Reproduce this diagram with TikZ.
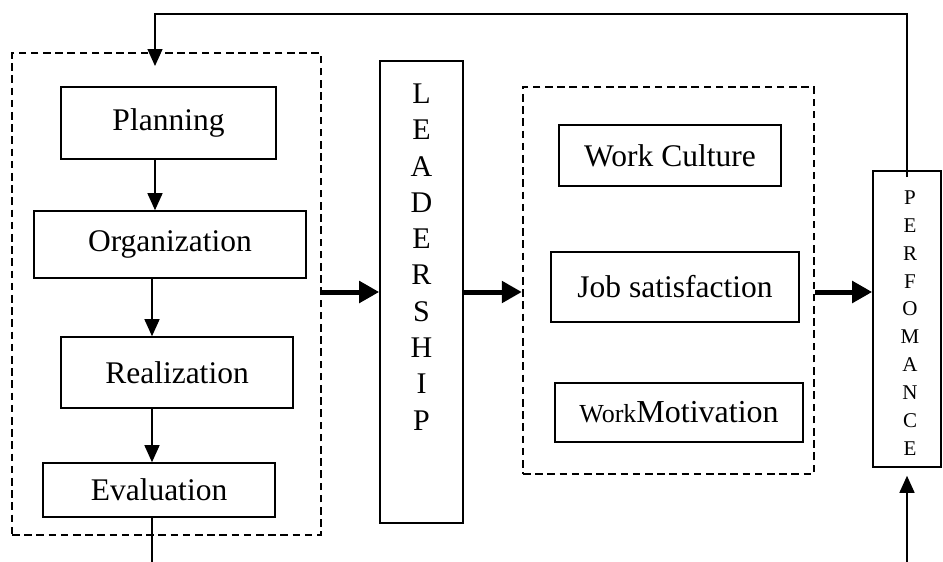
\documentclass[tikz,border=0pt]{standalone}
\usepackage{fontspec}
\setmainfont{Liberation Serif}
\usetikzlibrary{arrows.meta}

\tikzset{
    stage/.style={draw, line width=0.8pt, inner sep=0pt, font=\fontsize{15.75}{19}\selectfont},
    group/.style={draw, line width=1.15pt, dash pattern=on 3.8pt off 2.3pt, inner sep=0pt},
    flow/.style={-{Triangle[length=8.5pt,width=7.5pt]}, line width=0.75pt},
    push/.style={-{Triangle[length=10pt,width=10.5pt]}, line width=2.5pt},
}

\begin{document}
\begin{tikzpicture}[x=0.5pt, y=-0.5pt]
    \useasboundingbox (0,0) rectangle (943,562);
    \node[group, minimum width=154.5pt, minimum height=241pt] (mgmt) at (166.5,294) {};
    \node[group, minimum width=145.5pt, minimum height=193.5pt] (factors) at (668.5,280.5) {};

    \node[stage, minimum width=107.5pt, minimum height=36pt] (plan) at (168.5,123) {Planning};
    \node[stage, minimum width=136pt, minimum height=33.5pt] (org) at (170,244.5) {Organization};
    \node[stage, minimum width=116pt, minimum height=35.5pt] (real) at (177,372.5) {Realization};
    \node[stage, minimum width=116pt, minimum height=27pt] (eval) at (159,490) {Evaluation};

    \node[stage, minimum width=41.5pt, minimum height=231pt] (lead) at (421.5,292) {};
    \node[align=center, inner sep=0pt, font=\fontsize{15}{18.15}\selectfont] (leadtext) at (421.5,257)
        {L\\E\\A\\D\\E\\R\\S\\H\\I\\P};

    \node[stage, minimum width=111pt, minimum height=30.5pt] (culture) at (670,155.5) {Work Culture};
    \node[stage, minimum width=124pt, minimum height=35pt] (satisf) at (675,287) {Job satisfaction};
    \node[stage, minimum width=124pt, minimum height=29.5pt] (motiv) at (679,412.5)
        {{\fontsize{13}{15}\selectfont Work}\fontsize{16}{19}\selectfont Motivation};

    \node[stage, minimum width=34pt, minimum height=148pt] (perf) at (907,319) {};
    \node[align=center, inner sep=0pt, font=\fontsize{10.5}{13.95}\selectfont] (perftext) at (910,323)
        {P\\E\\R\\F\\O\\M\\A\\N\\C\\E};

    \coordinate (spine) at (155,0);
    \coordinate (fbtop) at (155,14);
    \coordinate (fbin) at (155,66);
    \coordinate (evalout) at (152,562);
    \coordinate (perfin) at (907,562);

    \draw[flow] (plan.south -| spine) -- (org.north -| spine);
    \draw[flow] (org.south -| evalout) -- (real.north -| evalout);
    \draw[flow] (real.south -| evalout) -- (eval.north -| evalout);
    \draw[line width=0.75pt] (eval.south -| evalout) -- (evalout);

    \draw[push] (mgmt.east |- lead.west) -- (lead.west);
    \draw[push] (lead.east) -- (factors.west |- lead.east);
    \draw[push] (factors.east |- lead.east) -- (perf.west |- lead.east);

    \draw[flow] ([yshift=-3.5pt]perf.north) |- (fbtop) -- (fbin);
    \draw[flow] (perfin) -- ([yshift=-4pt]perf.south);
\end{tikzpicture}
\end{document}
